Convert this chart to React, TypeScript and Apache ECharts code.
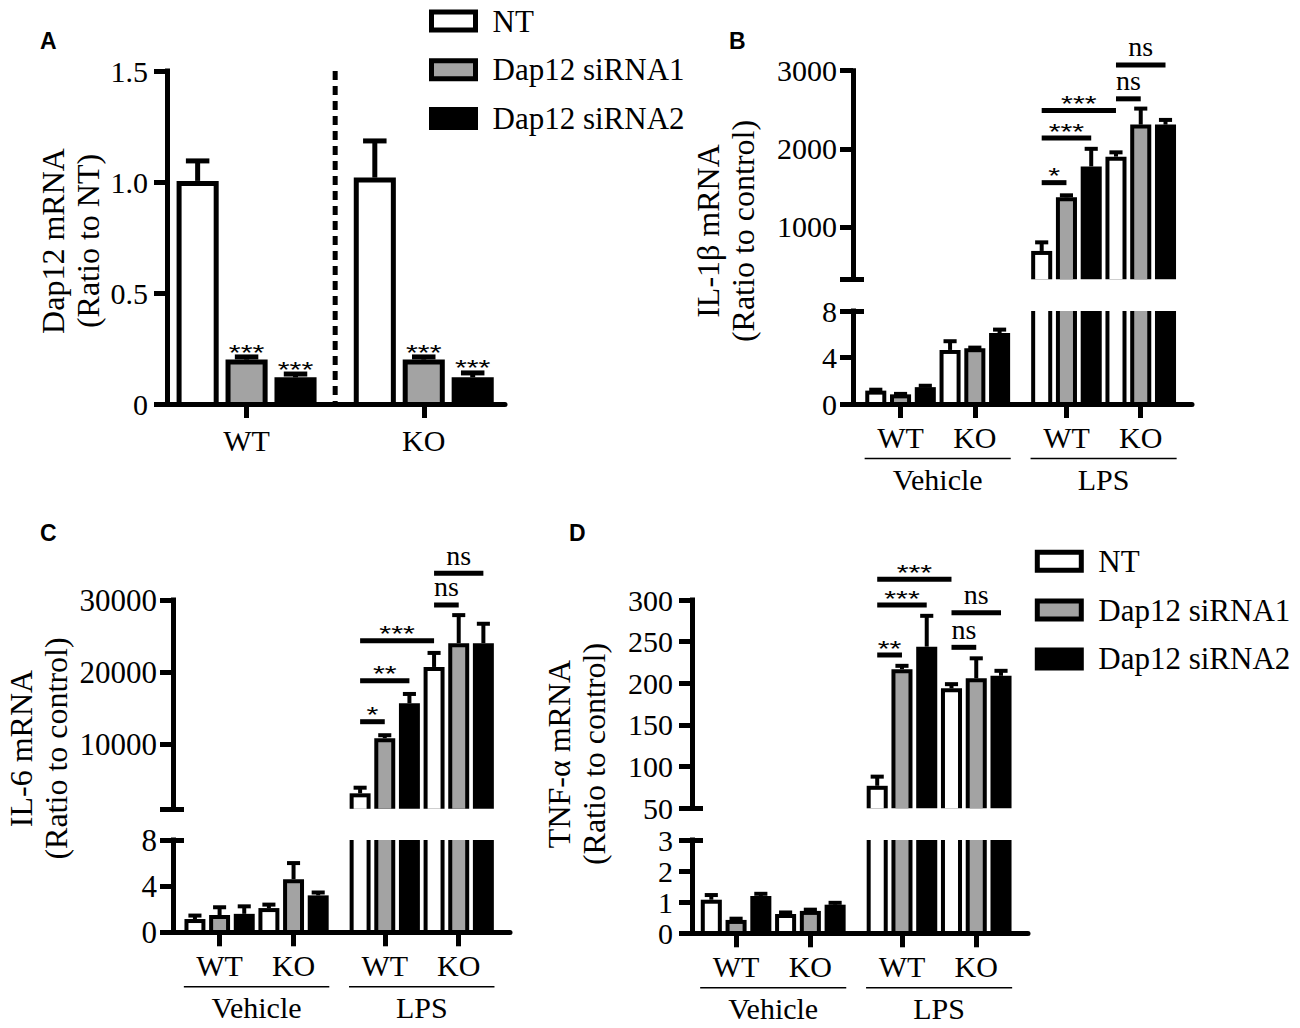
import React, { useEffect, useRef } from "react";
import * as echarts from "echarts";

const SERIF = "'Liberation Serif', 'Times New Roman', Times, serif";
const SANS = "'Liberation Sans', Arial, Helvetica, sans-serif";

// ---------- shared categories ----------
const treatments = ["NT", "Dap12 siRNA1", "Dap12 siRNA2"];
const genotypes = ["WT", "KO"];
const conditions = ["Vehicle", "LPS"];
const treatmentFills = ["#ffffff", "#a3a3a3", "#000000"];

// ---------- Panel A: Dap12 mRNA (Ratio to NT); order WT(NT,si1,si2), KO(NT,si1,si2) ----------
const dap12Mean = [1.005, 0.2, 0.12, 1.02, 0.2, 0.12];
const dap12Sem = [0.09, 0.012, 0.015, 0.165, 0.012, 0.02];
const dap12Stars = ["", "***", "***", "", "***", "***"];
const dap12Ticks = [0, 0.5, 1, 1.5];

// ---------- Panels B-D: order Vehicle WT(3), Vehicle KO(3), LPS WT(3), LPS KO(3) ----------
// B: IL-1β mRNA
const il1bMean = [1.15, 0.83, 1.45, 4.65, 4.8, 6.1, 693, 1380, 1775, 1900, 2310, 2310];
const il1bSem = [0.08, 0.04, 0.12, 0.75, 0.05, 0.3, 110, 25, 225, 55, 205, 60];
const il1bUpperMin = 330;
const il1bUpperTicks = [1000, 2000, 3000];
const il1bLowerTicks = [0, 4, 8];
const il1bBrackets: [number, number, number, string][] = [
  [6, 7, 1567, "*"],
  [6, 8, 2137, "***"],
  [6, 9, 2490, "***"],
  [9, 10, 2640, "ns"],
  [9, 11, 3074, "ns"],
];

// C: IL-6 mRNA
const il6Mean = [1.15, 1.5, 1.6, 2.1, 4.6, 3.2, 3150, 10800, 15650, 20700, 24000, 24000];
const il6Sem = [0.3, 0.67, 0.65, 0.3, 1.4, 0.25, 780, 420, 1300, 1950, 3900, 2700];
const il6UpperMin = 1000;
const il6UpperTicks = [10000, 20000, 30000];
const il6LowerTicks = [0, 4, 8];
const il6Brackets: [number, number, number, string][] = [
  [6, 7, 13097, "*"],
  [6, 8, 18792, "**"],
  [6, 9, 24347, "***"],
  [9, 10, 29306, "ns"],
  [9, 11, 33708, "ns"],
];

// D: TNF-α mRNA
const tnfMean = [1.08, 0.43, 1.2, 0.62, 0.72, 0.92, 77, 217, 244, 194, 206, 209];
const tnfSem = [0.15, 0.04, 0.07, 0.05, 0.04, 0.06, 11, 4, 37, 5, 24, 6];
const tnfUpperMin = 50;
const tnfUpperTicks = [50, 100, 150, 200, 250, 300];
const tnfLowerTicks = [0, 1, 2, 3];
const tnfBrackets: [number, number, number, string][] = [
  [6, 7, 234, "**"],
  [6, 8, 294, "***"],
  [6, 9, 324.8, "***"],
  [9, 10, 243.2, "ns"],
  [9, 11, 284.7, "ns"],
];

// ---------- layout (pixels / bar-pitch units) ----------
const KO_SHIFT_A = 0.62;
const LPS_SHIFT = 0.7;
const posA = (i: number) => (i < 3 ? i : i + KO_SHIFT_A);
const posB = (i: number) => (i < 6 ? i : i + LPS_SHIFT);

type Box = { left: number; top: number; width: number; height: number };

const LAYOUT_A = { grid: { left: 167, top: 71, width: 338, height: 333 }, xMin: -0.626, xMax: 6.28 };

const STAR_FONT = `22.5px ${SANS}`;
const STAR_SCALE_X = 1.35;

const fmtGroup = (centers: number[], names: string[]) => (v: number) => {
  const k = centers.findIndex((c) => Math.abs(c - v) < 1e-6);
  return k >= 0 ? names[k % names.length] : "";
};

function barRenderer(opts: {
  frac: number;
  border: number;
  errW: number;
  capFrac: number;
  stars?: string[];
}) {
  return (params: any, api: any) => {
    const cs = params.coordSys;
    const x = api.value(0);
    const v = api.value(1);
    const e = api.value(2);
    const t = api.value(3);
    const bottom = cs.y + cs.height;
    const top = cs.y;
    const unit = api.size([1, 0])[0];
    const w = unit * opts.frac;
    const c = api.coord([x, v]);
    let yTop = c[1];
    if (yTop >= bottom - 0.5) return null;
    const clipped = yTop < top;
    if (clipped) yTop = top;
    const left = c[0] - w / 2;
    const bw = opts.border;
    const children: any[] = [];
    children.push({
      type: "rect",
      shape: { x: left, y: yTop, width: w, height: bottom - yTop },
      style: { fill: "#000" },
    });
    if (t !== 2) {
      const iy = clipped ? yTop : yTop + bw;
      children.push({
        type: "rect",
        shape: { x: left + bw, y: iy, width: w - 2 * bw, height: Math.max(0, bottom - iy) },
        style: { fill: treatmentFills[t] },
      });
    }
    if (!clipped) {
      const ye = api.coord([x, v + e])[1];
      if (e > 0) {
        const cw = unit * opts.capFrac;
        children.push({
          type: "line",
          shape: { x1: c[0], y1: yTop, x2: c[0], y2: ye },
          style: { stroke: "#000", lineWidth: opts.errW },
        });
        children.push({
          type: "line",
          shape: { x1: c[0] - cw / 2, y1: ye, x2: c[0] + cw / 2, y2: ye },
          style: { stroke: "#000", lineWidth: opts.errW },
        });
      }
      const star = opts.stars ? opts.stars[params.dataIndex] : "";
      if (star) {
        children.push({
          type: "text",
          x: c[0],
          y: ye - 5,
          scaleX: STAR_SCALE_X,
          style: { text: star, font: STAR_FONT, fill: "#000", align: "center", verticalAlign: "middle" },
        });
      }
    }
    return { type: "group", children };
  };
}

function bracketRenderer(brackets: [number, number, number, string][]) {
  return (params: any, api: any) => {
    const b = brackets[params.dataIndex];
    const p1 = api.coord([api.value(0), api.value(2)]);
    const p2 = api.coord([api.value(1), api.value(2)]);
    const isStar = b[3].indexOf("*") >= 0;
    return {
      type: "group",
      children: [
        {
          type: "line",
          shape: { x1: p1[0], y1: p1[1], x2: p2[0], y2: p2[1] },
          style: { stroke: "#000", lineWidth: 5 },
        },
        {
          type: "text",
          x: (p1[0] + p2[0]) / 2,
          y: p1[1] - (isStar ? 7 : 18),
          scaleX: isStar ? STAR_SCALE_X : 1,
          style: {
            text: b[3],
            font: isStar ? STAR_FONT : `28px ${SERIF}`,
            fill: "#000",
            align: "center",
            verticalAlign: "middle",
          },
        },
      ],
    };
  };
}

function conditionRenderer(labels: string[]) {
  return (params: any, api: any) => {
    const cs = params.coordSys;
    const x1 = api.coord([api.value(0), 0])[0];
    const x2 = api.coord([api.value(1), 0])[0];
    const yl = cs.y + cs.height + 54.5;
    return {
      type: "group",
      children: [
        { type: "line", shape: { x1, y1: yl, x2, y2: yl }, style: { stroke: "#000", lineWidth: 1.6 } },
        {
          type: "text",
          x: (x1 + x2) / 2,
          y: yl + 20.5,
          style: {
            text: labels[params.dataIndex],
            font: `30px ${SERIF}`,
            fill: "#000",
            align: "center",
            verticalAlign: "middle",
          },
        },
      ],
    };
  };
}

function xAxisCfg(gridIndex: number, min: number, max: number, centers: number[] | null, names: string[], margin: number) {
  const show = !!centers;
  return {
    gridIndex,
    type: "value",
    min,
    max,
    show,
    z: 5,
    axisLine: { show, onZero: false, lineStyle: { color: "#000", width: 5 } },
    axisTick: {
      show,
      customValues: centers || [],
      length: 14,
      lineStyle: { color: "#000", width: 5 },
    },
    axisLabel: {
      show,
      customValues: centers || [],
      formatter: centers ? fmtGroup(centers, names) : () => "",
      margin,
      color: "#000",
      fontFamily: SERIF,
      fontSize: 30,
      lineHeight: 30,
    },
    splitLine: { show: false },
  };
}

function yAxisCfg(
  gridIndex: number,
  min: number,
  max: number,
  tickVals: number[],
  labelVals: number[],
  fmt: (v: number) => string,
  margin: number,
  fontSize: number
) {
  return {
    gridIndex,
    type: "value",
    position: "left",
    min,
    max,
    z: 5,
    axisLine: { show: true, onZero: false, lineStyle: { color: "#000", width: 5, cap: "square" } },
    axisTick: { show: true, customValues: tickVals, length: 13, lineStyle: { color: "#000", width: 5 } },
    axisLabel: {
      show: true,
      customValues: labelVals,
      formatter: fmt,
      margin,
      color: "#000",
      fontFamily: SERIF,
      fontSize,
    },
    splitLine: { show: false },
  };
}

// inward tick marking the axis break (drawn on the right side of the y axis)
function breakTickCfg(gridIndex: number, min: number, max: number, value: number) {
  return {
    gridIndex,
    type: "value",
    position: "left",
    min,
    max,
    z: 5,
    axisLine: { show: false, onZero: false },
    axisTick: { show: true, inside: true, customValues: [value], length: 11, lineStyle: { color: "#000", width: 5 } },
    axisLabel: { show: false },
    splitLine: { show: false },
  };
}

type BrokenPanel = {
  mean: number[];
  sem: number[];
  brackets: [number, number, number, string][];
  upperMin: number;
  upperMax: number;
  upperTicks: number[];
  lowerTicks: number[];
  upper: Box;
  lower: Box;
  xMin: number;
  xMax: number;
  yLabelMargin: number;
  fontSize: number;
};

function buildOption() {
  const grids: any[] = [];
  const xAxes: any[] = [];
  const yAxes: any[] = [];
  const series: any[] = [];
  const addGrid = (box: Box) => {
    grids.push({ ...box, containLabel: false, outerBoundsMode: "none" });
    return grids.length - 1;
  };
  const addX = (cfg: any) => {
    xAxes.push(cfg);
    return xAxes.length - 1;
  };
  const addY = (cfg: any) => {
    yAxes.push(cfg);
    return yAxes.length - 1;
  };

  // ----- Panel A -----
  const gA = addGrid(LAYOUT_A.grid);
  const centersA = [posA(1), posA(4)];
  const xA = addX(xAxisCfg(gA, LAYOUT_A.xMin, LAYOUT_A.xMax, centersA, genotypes, 21));
  const yA = addY(
    yAxisCfg(gA, 0, 1.5, dap12Ticks, dap12Ticks, (v) => (v === 0 ? "0" : v.toFixed(1)), 19, 30)
  );
  series.push({
    type: "custom",
    xAxisIndex: xA,
    yAxisIndex: yA,
    clip: false,
    silent: true,
    z: 2,
    renderItem: barRenderer({ frac: 0.86, border: 5, errW: 5, capFrac: 0.48, stars: dap12Stars }),
    data: dap12Mean.map((m, i) => [posA(i), m, dap12Sem[i], i % 3]),
  });
  series.push({
    type: "custom",
    xAxisIndex: xA,
    yAxisIndex: yA,
    clip: false,
    silent: true,
    z: 3,
    encode: { x: 0 },
    renderItem: (params: any, api: any) => {
      const cs = params.coordSys;
      const x = api.coord([api.value(0), 0])[0];
      return {
        type: "line",
        shape: { x1: x, y1: cs.y, x2: x, y2: cs.y + cs.height },
        style: { stroke: "#000", lineWidth: 5, lineDash: [9, 6] },
      };
    },
    data: [[(posA(2) + posA(3)) / 2]],
  });

  // ----- Broken-axis panels -----
  const addBroken = (p: BrokenPanel) => {
    const centers = [posB(1), posB(4), posB(7), posB(10)];
    const plain = (v: number) => String(v);
    const lowerMax = p.lowerTicks[p.lowerTicks.length - 1];

    const gU = addGrid(p.upper);
    const xU = addX(xAxisCfg(gU, p.xMin, p.xMax, null, genotypes, 18));
    const tickU = p.upperTicks.indexOf(p.upperMin) >= 0 ? p.upperTicks : [p.upperMin, ...p.upperTicks];
    const yU = addY(yAxisCfg(gU, p.upperMin, p.upperMax, tickU, p.upperTicks, plain, p.yLabelMargin, p.fontSize));
    addY(breakTickCfg(gU, p.upperMin, p.upperMax, p.upperMin));

    const gL = addGrid(p.lower);
    const xL = addX(xAxisCfg(gL, p.xMin, p.xMax, centers, genotypes, 18));
    const yL = addY(yAxisCfg(gL, 0, lowerMax, p.lowerTicks, p.lowerTicks, plain, p.yLabelMargin, p.fontSize));
    addY(breakTickCfg(gL, 0, lowerMax, lowerMax));

    const data = p.mean.map((m, i) => [posB(i), m, p.sem[i], i % 3]);
    const rend = barRenderer({ frac: 0.85, border: 4, errW: 4, capFrac: 0.53 });
    [
      [xU, yU],
      [xL, yL],
    ].forEach(([xi, yi]) =>
      series.push({
        type: "custom",
        xAxisIndex: xi,
        yAxisIndex: yi,
        clip: false,
        silent: true,
        z: 2,
        renderItem: rend,
        data,
      })
    );
    series.push({
      type: "custom",
      xAxisIndex: xU,
      yAxisIndex: yU,
      clip: false,
      silent: true,
      z: 4,
      encode: { x: [0, 1], y: 2 },
      renderItem: bracketRenderer(p.brackets),
      data: p.brackets.map((b) => [posB(b[0]), posB(b[1]), b[2]]),
    });
    series.push({
      type: "custom",
      xAxisIndex: xL,
      yAxisIndex: yL,
      clip: false,
      silent: true,
      z: 4,
      encode: { x: [0, 1] },
      renderItem: conditionRenderer(conditions),
      data: conditions.map((_, k) => [posB(k * 6) - 0.45, posB(k * 6 + 5) + 0.45]),
    });
  };

  addBroken({
    mean: il1bMean,
    sem: il1bSem,
    brackets: il1bBrackets,
    upperMin: il1bUpperMin,
    upperMax: il1bUpperTicks[il1bUpperTicks.length - 1],
    upperTicks: il1bUpperTicks,
    lowerTicks: il1bLowerTicks,
    upper: { left: 853, top: 70.7, width: 339, height: 208.6 },
    lower: { left: 853, top: 311, width: 339, height: 93 },
    xMin: -0.92,
    xMax: 12.77,
    yLabelMargin: 16,
    fontSize: 30,
  });
  addBroken({
    mean: il6Mean,
    sem: il6Sem,
    brackets: il6Brackets,
    upperMin: il6UpperMin,
    upperMax: il6UpperTicks[il6UpperTicks.length - 1],
    upperTicks: il6UpperTicks,
    lowerTicks: il6LowerTicks,
    upper: { left: 173, top: 600, width: 337, height: 208.8 },
    lower: { left: 173, top: 840, width: 337, height: 92.3 },
    xMin: -0.89,
    xMax: 12.78,
    yLabelMargin: 16,
    fontSize: 31,
  });
  addBroken({
    mean: tnfMean,
    sem: tnfSem,
    brackets: tnfBrackets,
    upperMin: tnfUpperMin,
    upperMax: tnfUpperTicks[tnfUpperTicks.length - 1],
    upperTicks: tnfUpperTicks,
    lowerTicks: tnfLowerTicks,
    upper: { left: 692, top: 600, width: 336, height: 208.3 },
    lower: { left: 692, top: 840, width: 336, height: 93.3 },
    xMin: -0.78,
    xMax: 12.79,
    yLabelMargin: 19,
    fontSize: 30,
  });

  // ----- hidden grid for legend entries -----
  const gLeg = addGrid({ left: 0, top: 0, width: 1, height: 1 });
  const xLeg = addX({ gridIndex: gLeg, type: "category", show: false, data: [] });
  const yLeg = addY({ gridIndex: gLeg, type: "value", show: false });
  treatments.forEach((name, k) =>
    series.push({
      type: "bar",
      name,
      xAxisIndex: xLeg,
      yAxisIndex: yLeg,
      data: [],
      itemStyle: { color: treatmentFills[k], borderColor: "#000", borderWidth: 5 },
    })
  );

  const legendCfg = (left: number, top: number) => ({
    orient: "vertical",
    left,
    top,
    padding: 0,
    itemGap: 17.8,
    itemWidth: 44,
    itemHeight: 18,
    icon: "rect",
    selectedMode: false,
    data: treatments,
    itemStyle: { borderColor: "#000", borderWidth: 5 },
    textStyle: { fontFamily: SERIF, fontSize: 31, lineHeight: 31, color: "#000", padding: [0, 0, 0, 12] },
  });

  const letter = (t: string, x: number, y: number) => ({
    type: "text",
    x,
    y,
    style: { text: t, font: `bold 23px ${SANS}`, fill: "#000", align: "left", verticalAlign: "middle" },
  });
  const title = (t: string, x: number, y: number) => ({
    type: "text",
    x,
    y,
    rotation: Math.PI / 2,
    style: { text: t, font: `32px ${SERIF}`, lineHeight: 35, fill: "#000", align: "center", verticalAlign: "middle" },
  });

  return {
    animation: false,
    backgroundColor: "#fff",
    grid: grids,
    xAxis: xAxes,
    yAxis: yAxes,
    series,
    legend: [legendCfg(429, 5.5), legendCfg(1034.8, 545.8)],
    graphic: [
      letter("A", 40, 41),
      letter("B", 729, 40.5),
      letter("C", 40, 532.5),
      letter("D", 569, 532.5),
      title("Dap12 mRNA\n(Ratio to NT)", 70.5, 241),
      title("IL-1β mRNA\n(Ratio to control)", 725, 231),
      title("IL-6 mRNA\n(Ratio to control)", 38.5, 748.5),
      title("TNF-α mRNA\n(Ratio to control)", 576, 754),
    ],
  };
}

export default function App() {
  const ref = useRef<HTMLDivElement>(null);
  useEffect(() => {
    if (!ref.current) return;
    const chart = echarts.init(ref.current, undefined, { renderer: "svg" });
    chart.setOption(buildOption() as any);
    return () => chart.dispose();
  }, []);
  return (
    <div
      ref={ref}
      style={{ position: "absolute", left: 0, top: 0, width: 1300, height: 1028, background: "#fff" }}
    />
  );
}
